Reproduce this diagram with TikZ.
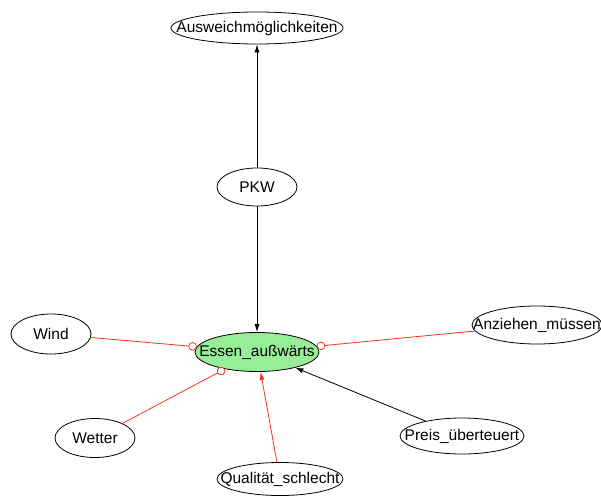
\documentclass[tikz,border=0pt]{standalone}
\usepackage{fontspec}
\setmainfont{Liberation Sans}
\usetikzlibrary{shapes.geometric,arrows.meta}
\definecolor{nodegreen}{RGB}{152,238,152}
\definecolor{linkred}{RGB}{255,48,32}
% label set in a zero-width box so the ellipse keeps its given size
\newcommand{\lbl}[1]{\makebox[0pt]{#1}}
\tikzset{
  vertex/.style={ellipse, draw=black, line width=0.8pt, inner sep=0pt,
    font=\fontsize{15.5}{17}\selectfont},
  cause/.style={-{Latex[length=8pt,width=5pt]}, line width=0.8pt, black},
  redcause/.style={-{Latex[length=8pt,width=5pt]}, line width=0.8pt, linkred},
  inhibit/.style={-{Circle[open,length=8.5pt,fill=white]}, line width=0.8pt, linkred}
}
\begin{document}
\begin{tikzpicture}[x=1pt,y=-1pt]
  \useasboundingbox (0,0) rectangle (601,495);

  % nodes
  \node[vertex, minimum width=172pt, minimum height=32pt] (aus) at (257,28) {\lbl{Ausweichmöglichkeiten}};
  \node[vertex, minimum width=80pt, minimum height=38pt] (pkw) at (257,187) {\lbl{PKW}};
  \node[vertex, fill=nodegreen, minimum width=124pt, minimum height=39pt] (ess) at (257,352) {\lbl{Essen\_außwärts}};
  \node[vertex, minimum width=80pt, minimum height=40pt] (wind) at (51,334) {\lbl{Wind}};
  \node[vertex, minimum width=80pt, minimum height=39pt] (wet) at (95,438) {\lbl{Wetter}};
  \node[vertex, minimum width=130pt, minimum height=38pt] (anz) at (537,325) {\lbl{Anziehen\_müssen}};
  \node[vertex, minimum width=124pt, minimum height=36pt] (preis) at (462,436) {\lbl{Preis\_überteuert}};
  \node[vertex, minimum width=126pt, minimum height=33pt] (qual) at (280,479) {\lbl{Qualität\_schlecht}};

  % connectors
  \draw[cause] (pkw) -- (aus);
  \draw[cause] (pkw) -- (ess);
  \draw[cause] (preis) -- (ess);
  \draw[redcause] (qual) -- (ess);
  \draw[inhibit] (wind) -- (ess);
  \draw[inhibit] (wet) -- (ess);
  \draw[inhibit] (anz) -- (ess);
\end{tikzpicture}
\end{document}
